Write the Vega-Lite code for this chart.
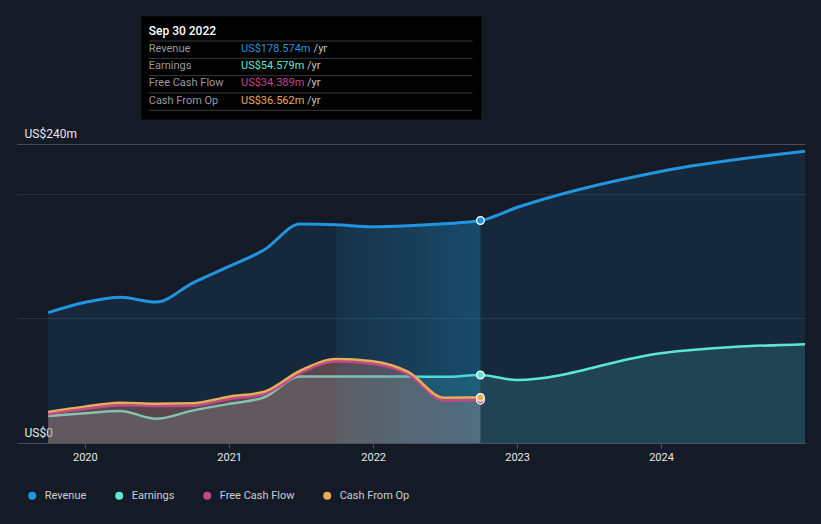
{
  "$schema": "https://vega.github.io/schema/vega-lite/v6.json",
  "width": 788,
  "height": 299,
  "autosize": "none",
  "padding": {"left": 17, "top": 144, "right": 16, "bottom": 81},
  "background": "#151b26",
  "config": {
    "font": "Roboto",
    "view": {"stroke": null},
    "text": {"font": "Roboto"}
  },
  "layer": [
    {
      "data": {
        "values": [
          {"date": "2019-09-30", "series": "Revenue", "value": 104.7},
          {"date": "2019-12-31", "series": "Revenue", "value": 112.8},
          {"date": "2020-03-31", "series": "Revenue", "value": 117.0},
          {"date": "2020-06-30", "series": "Revenue", "value": 113.1},
          {"date": "2020-09-30", "series": "Revenue", "value": 128.4},
          {"date": "2020-12-31", "series": "Revenue", "value": 141.7},
          {"date": "2021-03-31", "series": "Revenue", "value": 155.1},
          {"date": "2021-06-30", "series": "Revenue", "value": 175.8},
          {"date": "2021-09-30", "series": "Revenue", "value": 175.2},
          {"date": "2021-12-31", "series": "Revenue", "value": 173.6},
          {"date": "2022-03-31", "series": "Revenue", "value": 174.4},
          {"date": "2022-06-30", "series": "Revenue", "value": 176.0},
          {"date": "2022-09-30", "series": "Revenue", "value": 178.574},
          {"date": "2022-12-31", "series": "Revenue", "value": 189.0},
          {"date": "2023-12-31", "series": "Revenue", "value": 218.0},
          {"date": "2024-12-31", "series": "Revenue", "value": 234.2},
          {"date": "2019-09-30", "series": "Earnings", "value": 21.7},
          {"date": "2019-12-31", "series": "Earnings", "value": 23.9},
          {"date": "2020-03-31", "series": "Earnings", "value": 25.7},
          {"date": "2020-06-30", "series": "Earnings", "value": 19.5},
          {"date": "2020-09-30", "series": "Earnings", "value": 26.0},
          {"date": "2020-12-31", "series": "Earnings", "value": 31.4},
          {"date": "2021-03-31", "series": "Earnings", "value": 36.7},
          {"date": "2021-06-30", "series": "Earnings", "value": 53.3},
          {"date": "2021-09-30", "series": "Earnings", "value": 53.3},
          {"date": "2021-12-31", "series": "Earnings", "value": 53.4},
          {"date": "2022-03-31", "series": "Earnings", "value": 53.4},
          {"date": "2022-06-30", "series": "Earnings", "value": 53.1},
          {"date": "2022-09-30", "series": "Earnings", "value": 54.579},
          {"date": "2022-12-31", "series": "Earnings", "value": 50.6},
          {"date": "2023-12-31", "series": "Earnings", "value": 72.1},
          {"date": "2024-12-31", "series": "Earnings", "value": 79.3},
          {"date": "2019-09-30", "series": "Free Cash Flow", "value": 23.0},
          {"date": "2019-12-31", "series": "Free Cash Flow", "value": 27.2},
          {"date": "2020-03-31", "series": "Free Cash Flow", "value": 30.4},
          {"date": "2020-06-30", "series": "Free Cash Flow", "value": 29.6},
          {"date": "2020-09-30", "series": "Free Cash Flow", "value": 29.9},
          {"date": "2020-12-31", "series": "Free Cash Flow", "value": 35.2},
          {"date": "2021-03-31", "series": "Free Cash Flow", "value": 39.2},
          {"date": "2021-06-30", "series": "Free Cash Flow", "value": 56.0},
          {"date": "2021-09-30", "series": "Free Cash Flow", "value": 65.4},
          {"date": "2021-12-31", "series": "Free Cash Flow", "value": 63.6},
          {"date": "2022-03-31", "series": "Free Cash Flow", "value": 55.0},
          {"date": "2022-06-30", "series": "Free Cash Flow", "value": 34.2},
          {"date": "2022-09-30", "series": "Free Cash Flow", "value": 34.389},
          {"date": "2019-09-30", "series": "Cash From Op", "value": 24.9},
          {"date": "2019-12-31", "series": "Cash From Op", "value": 29.2},
          {"date": "2020-03-31", "series": "Cash From Op", "value": 32.4},
          {"date": "2020-06-30", "series": "Cash From Op", "value": 31.6},
          {"date": "2020-09-30", "series": "Cash From Op", "value": 31.9},
          {"date": "2020-12-31", "series": "Cash From Op", "value": 37.2},
          {"date": "2021-03-31", "series": "Cash From Op", "value": 41.2},
          {"date": "2021-06-30", "series": "Cash From Op", "value": 58.0},
          {"date": "2021-09-30", "series": "Cash From Op", "value": 67.4},
          {"date": "2021-12-31", "series": "Cash From Op", "value": 65.6},
          {"date": "2022-03-31", "series": "Cash From Op", "value": 57.0},
          {"date": "2022-06-30", "series": "Cash From Op", "value": 36.3},
          {"date": "2022-09-30", "series": "Cash From Op", "value": 36.562}
        ]
      },
      "encoding": {
        "x": {
          "field": "date",
          "type": "temporal",
          "scale": {
            "type": "utc",
            "domain": [
              {"year": 2019, "month": 7, "date": 13, "utc": true},
              {"year": 2024, "month": 12, "date": 31, "utc": true}
            ]
          },
          "axis": {
            "values": [
              {"year": 2020, "month": 1, "date": 1, "utc": true},
              {"year": 2021, "month": 1, "date": 1, "utc": true},
              {"year": 2022, "month": 1, "date": 1, "utc": true},
              {"year": 2023, "month": 1, "date": 1, "utc": true},
              {"year": 2024, "month": 1, "date": 1, "utc": true}
            ],
            "format": "%Y",
            "formatType": "utc",
            "grid": false,
            "domainColor": "#4b5058",
            "tickColor": "#4b5058",
            "tickSize": 5,
            "labelColor": "#e6e6e6",
            "labelFont": "Roboto",
            "labelFontSize": 11,
            "labelPadding": 3,
            "labelFlush": false,
            "title": null
          }
        }
      },
      "layer": [
        {
          "data": {"values": [{}]},
          "mark": {
            "type": "rect",
            "fill": {
              "gradient": "linear", "x1": 0, "y1": 0, "x2": 1, "y2": 0,
              "stops": [
                {"offset": 0, "color": "rgba(0,10,15,0.2)"},
                {"offset": 1, "color": "rgba(0,60,75,0.45)"}
              ]
            }
          },
          "encoding": {
            "x": {"datum": {"year": 2021, "month": 9, "date": 30, "utc": true}, "type": "temporal"},
            "x2": {"datum": {"year": 2022, "month": 9, "date": 30, "utc": true}},
            "y": {"datum": 0, "type": "quantitative"},
            "y2": {"datum": 240}
          }
        },
        {
          "transform": [{"filter": {"field": "series", "equal": "Revenue"}}],
          "mark": {"type": "area", "interpolate": "monotone", "fillOpacity": 0.12},
          "encoding": {
            "y": {
              "field": "value",
              "type": "quantitative",
              "stack": null,
              "scale": {"domain": [0, 240], "nice": false, "zero": true},
              "axis": {
                "values": [0, 100, 200, 240],
                "labelExpr": "datum.value == 240 ? 'US$240m' : (datum.value == 0 ? 'US$0' : '')",
                "grid": true,
                "gridColor": {"condition": {"test": "datum.value == 240", "value": "#4a4f57"}, "value": "#2b313a"},
                "gridWidth": 1,
                "domain": false,
                "ticks": false,
                "tickSize": 0,
                "labelAlign": "left",
                "labelBaseline": "bottom",
                "labelPadding": -7,
                "labelOffset": -4,
                "labelColor": "#e6e6e6",
                "labelFont": "Roboto",
                "labelFontSize": 12,
                "labelFlush": false,
                "labelOverlap": false,
                "labelBound": false,
                "title": null
              }
            },
            "color": {
              "field": "series",
              "type": "nominal",
              "scale": {
                "domain": ["Revenue", "Earnings", "Free Cash Flow", "Cash From Op"],
                "range": ["#2394df", "#5ce6d4", "#c4478a", "#e8ad5a"]
              },
              "legend": {
                "orient": "none",
                "legendX": 9.7,
                "legendY": 346,
                "direction": "horizontal",
                "title": null,
                "symbolType": "circle",
                "symbolSize": 64,
                "labelColor": "#c9cdd2",
                "labelFont": "Roboto",
                "labelFontSize": 11,
                "labelOffset": 7,
                "columnPadding": 27,
                "padding": 0,
                "encode": {
                  "symbols": {
                    "update": {
                      "fill": {"scale": "color", "field": "value"},
                      "fillOpacity": {"value": 1},
                      "opacity": {"value": 1},
                      "strokeWidth": {"value": 0}
                    }
                  }
                }
              }
            }
          }
        },
        {
          "transform": [{"filter": {"field": "series", "equal": "Earnings"}}],
          "mark": {"type": "area", "interpolate": "monotone", "fillOpacity": 0.15},
          "encoding": {
            "y": {"field": "value", "type": "quantitative", "stack": null},
            "color": {"field": "series", "type": "nominal", "scale": {"domain": ["Revenue", "Earnings", "Free Cash Flow", "Cash From Op"], "range": ["#2394df", "#5ce6d4", "#c4478a", "#e8ad5a"]}}
          }
        },
        {
          "transform": [{"filter": {"field": "series", "equal": "Earnings"}}],
          "mark": {"type": "line", "interpolate": "monotone", "strokeWidth": 2.5},
          "encoding": {
            "y": {"field": "value", "type": "quantitative"},
            "color": {"field": "series", "type": "nominal", "scale": {"domain": ["Revenue", "Earnings", "Free Cash Flow", "Cash From Op"], "range": ["#2394df", "#5ce6d4", "#c4478a", "#e8ad5a"]}}
          }
        },
        {
          "transform": [{"filter": {"field": "series", "equal": "Free Cash Flow"}}],
          "mark": {"type": "area", "interpolate": "monotone", "fillOpacity": 0.2},
          "encoding": {
            "y": {"field": "value", "type": "quantitative", "stack": null},
            "color": {"field": "series", "type": "nominal", "scale": {"domain": ["Revenue", "Earnings", "Free Cash Flow", "Cash From Op"], "range": ["#2394df", "#5ce6d4", "#c4478a", "#e8ad5a"]}}
          }
        },
        {
          "transform": [{"filter": {"field": "series", "equal": "Cash From Op"}}],
          "mark": {"type": "area", "interpolate": "monotone", "fillOpacity": 0.2},
          "encoding": {
            "y": {"field": "value", "type": "quantitative", "stack": null},
            "color": {"field": "series", "type": "nominal", "scale": {"domain": ["Revenue", "Earnings", "Free Cash Flow", "Cash From Op"], "range": ["#2394df", "#5ce6d4", "#c4478a", "#e8ad5a"]}}
          }
        },
        {
          "transform": [
            {"filter": {"field": "series", "equal": "Revenue"}},
            {"filter": {"field": "date", "range": [{"year": 2021, "month": 9, "date": 30, "utc": true}, {"year": 2022, "month": 9, "date": 30, "utc": true}]}}
          ],
          "mark": {
            "type": "area",
            "interpolate": "monotone",
            "fill": {
              "gradient": "linear", "x1": 0, "y1": 0, "x2": 1, "y2": 0,
              "stops": [
                {"offset": 0, "color": "rgba(30,165,230,0.07)"},
                {"offset": 1, "color": "rgba(30,165,230,0.27)"}
              ]
            }
          },
          "encoding": {
            "y": {"field": "value", "type": "quantitative", "stack": null}
          }
        },
        {
          "data": {"values": [{}]},
          "mark": {"type": "rule", "color": "#1d4b60", "strokeWidth": 1},
          "encoding": {
            "x": {"datum": {"year": 2022, "month": 9, "date": 30, "utc": true}, "type": "temporal"},
            "y": {"datum": 0, "type": "quantitative"},
            "y2": {"datum": 260}
          }
        },
        {
          "transform": [{"filter": {"field": "series", "equal": "Free Cash Flow"}}],
          "mark": {"type": "line", "interpolate": "monotone", "strokeWidth": 2.5},
          "encoding": {
            "y": {"field": "value", "type": "quantitative"},
            "color": {"field": "series", "type": "nominal", "scale": {"domain": ["Revenue", "Earnings", "Free Cash Flow", "Cash From Op"], "range": ["#2394df", "#5ce6d4", "#c4478a", "#e8ad5a"]}}
          }
        },
        {
          "transform": [{"filter": {"field": "series", "equal": "Cash From Op"}}],
          "mark": {"type": "line", "interpolate": "monotone", "strokeWidth": 2.5},
          "encoding": {
            "y": {"field": "value", "type": "quantitative"},
            "color": {"field": "series", "type": "nominal", "scale": {"domain": ["Revenue", "Earnings", "Free Cash Flow", "Cash From Op"], "range": ["#2394df", "#5ce6d4", "#c4478a", "#e8ad5a"]}}
          }
        },
        {
          "transform": [{"filter": {"field": "series", "equal": "Revenue"}}],
          "mark": {"type": "line", "interpolate": "monotone", "strokeWidth": 3},
          "encoding": {
            "y": {"field": "value", "type": "quantitative"},
            "color": {"field": "series", "type": "nominal", "scale": {"domain": ["Revenue", "Earnings", "Free Cash Flow", "Cash From Op"], "range": ["#2394df", "#5ce6d4", "#c4478a", "#e8ad5a"]}}
          }
        },
        {
          "transform": [{"filter": {"field": "date", "equal": {"year": 2022, "month": 9, "date": 30, "utc": true}}}],
          "mark": {"type": "point", "filled": true, "size": 60, "stroke": "#ffffff", "strokeWidth": 1.2, "opacity": 1},
          "encoding": {
            "y": {"field": "value", "type": "quantitative"},
            "color": {"field": "series", "type": "nominal", "scale": {"domain": ["Revenue", "Earnings", "Free Cash Flow", "Cash From Op"], "range": ["#2394df", "#5ce6d4", "#c4478a", "#e8ad5a"]}}
          }
        },
        {
          "data": {"values": [{"t": "Past"}]},
          "mark": {"type": "text", "align": "right", "baseline": "middle", "dx": -9, "fontSize": 12, "color": "#ffffff", "font": "Roboto"},
          "encoding": {
            "x": {"datum": {"year": 2022, "month": 9, "date": 30, "utc": true}, "type": "temporal"},
            "y": {"datum": 231, "type": "quantitative"},
            "text": {"field": "t"}
          }
        },
        {
          "data": {"values": [{"t": "Analysts Forecasts"}]},
          "mark": {"type": "text", "align": "left", "baseline": "middle", "dx": 8, "fontSize": 12, "color": "#9aa0a6", "font": "Roboto"},
          "encoding": {
            "x": {"datum": {"year": 2022, "month": 9, "date": 30, "utc": true}, "type": "temporal"},
            "y": {"datum": 231, "type": "quantitative"},
            "text": {"field": "t"}
          }
        }
      ]
    },
    {
      "data": {
        "values": [
          {"series": "Revenue", "val": "US$178.574m"},
          {"series": "Earnings", "val": "US$54.579m"},
          {"series": "Free Cash Flow", "val": "US$34.389m"},
          {"series": "Cash From Op", "val": "US$36.562m"}
        ]
      },
      "layer": [
        {
          "data": {"values": [{}]},
          "mark": {"type": "rect", "fill": "#000000", "yOffset": -15, "y2Offset": 19, "x2Offset": 1},
          "encoding": {
            "x": {"datum": {"year": 2020, "month": 5, "date": 23, "utc": true}, "type": "temporal"},
            "x2": {"datum": {"year": 2022, "month": 9, "date": 30, "utc": true}},
            "y": {"datum": "head", "type": "nominal", "scale": {"type": "point", "domain": ["head", "Revenue", "Earnings", "Free Cash Flow", "Cash From Op"], "range": [-112.8, -43.5], "padding": 0}, "axis": null},
            "y2": {"datum": "Cash From Op"}
          }
        },
        {
          "data": {"values": [{"t": "Sep 30 2022"}]},
          "mark": {"type": "text", "align": "left", "baseline": "middle", "fontSize": 12, "fontWeight": 500, "color": "#ffffff", "font": "Roboto"},
          "encoding": {
            "x": {"datum": {"year": 2020, "month": 6, "date": 11, "utc": true}, "type": "temporal"},
            "y": {"datum": "head", "type": "nominal", "scale": {"type": "point", "domain": ["head", "Revenue", "Earnings", "Free Cash Flow", "Cash From Op"], "range": [-112.8, -43.5], "padding": 0}, "axis": null},
            "text": {"field": "t"}
          }
        },
        {
          "data": {"values": [{}]},
          "mark": {"type": "rule", "color": "#3a3a3a", "strokeWidth": 1, "yOffset": 9.8},
          "encoding": {
            "x": {"datum": {"year": 2020, "month": 6, "date": 11, "utc": true}, "type": "temporal"},
            "x2": {"datum": {"year": 2022, "month": 9, "date": 10, "utc": true}},
            "y": {"datum": "head", "type": "nominal", "scale": {"type": "point", "domain": ["head", "Revenue", "Earnings", "Free Cash Flow", "Cash From Op"], "range": [-112.8, -43.5], "padding": 0}, "axis": null}
          }
        },
        {
          "mark": {"type": "rule", "color": "#3a3a3a", "strokeWidth": 1, "yOffset": 9.8},
          "encoding": {
            "x": {"datum": {"year": 2020, "month": 6, "date": 11, "utc": true}, "type": "temporal"},
            "x2": {"datum": {"year": 2022, "month": 9, "date": 10, "utc": true}},
            "y": {"field": "series", "type": "nominal", "scale": {"type": "point", "domain": ["head", "Revenue", "Earnings", "Free Cash Flow", "Cash From Op"], "range": [-112.8, -43.5], "padding": 0}, "axis": null}
          }
        },
        {
          "mark": {"type": "text", "align": "left", "baseline": "middle", "fontSize": 11, "color": "#9a9a9a", "font": "Roboto"},
          "encoding": {
            "x": {"datum": {"year": 2020, "month": 6, "date": 11, "utc": true}, "type": "temporal"},
            "y": {"field": "series", "type": "nominal", "scale": {"type": "point", "domain": ["head", "Revenue", "Earnings", "Free Cash Flow", "Cash From Op"], "range": [-112.8, -43.5], "padding": 0}, "axis": null},
            "text": {"field": "series"}
          }
        },
        {
          "mark": {"type": "text", "align": "left", "baseline": "middle", "fontSize": 11, "font": "Roboto"},
          "encoding": {
            "x": {"datum": {"year": 2021, "month": 1, "date": 31, "utc": true}, "type": "temporal"},
            "y": {"field": "series", "type": "nominal", "scale": {"type": "point", "domain": ["head", "Revenue", "Earnings", "Free Cash Flow", "Cash From Op"], "range": [-112.8, -43.5], "padding": 0}, "axis": null},
            "text": {"field": "val"},
            "color": {"field": "series", "type": "nominal", "scale": {"domain": ["Revenue", "Earnings", "Free Cash Flow", "Cash From Op"], "range": ["#2394df", "#5ce6d4", "#c4478a", "#e8ad5a"]}}
          }
        },
        {
          "mark": {"type": "text", "align": "left", "baseline": "middle", "fontSize": 11, "font": "Roboto", "color": "#c4c4c4", "dx": {"expr": "66 + (length(datum.val) - 10) * 6.6"}},
          "encoding": {
            "x": {"datum": {"year": 2021, "month": 1, "date": 31, "utc": true}, "type": "temporal"},
            "y": {"field": "series", "type": "nominal", "scale": {"type": "point", "domain": ["head", "Revenue", "Earnings", "Free Cash Flow", "Cash From Op"], "range": [-112.8, -43.5], "padding": 0}, "axis": null},
            "text": {"value": "/yr"}
          }
        }
      ]
    }
  ],
  "resolve": {"scale": {"y": "independent"}}
}
